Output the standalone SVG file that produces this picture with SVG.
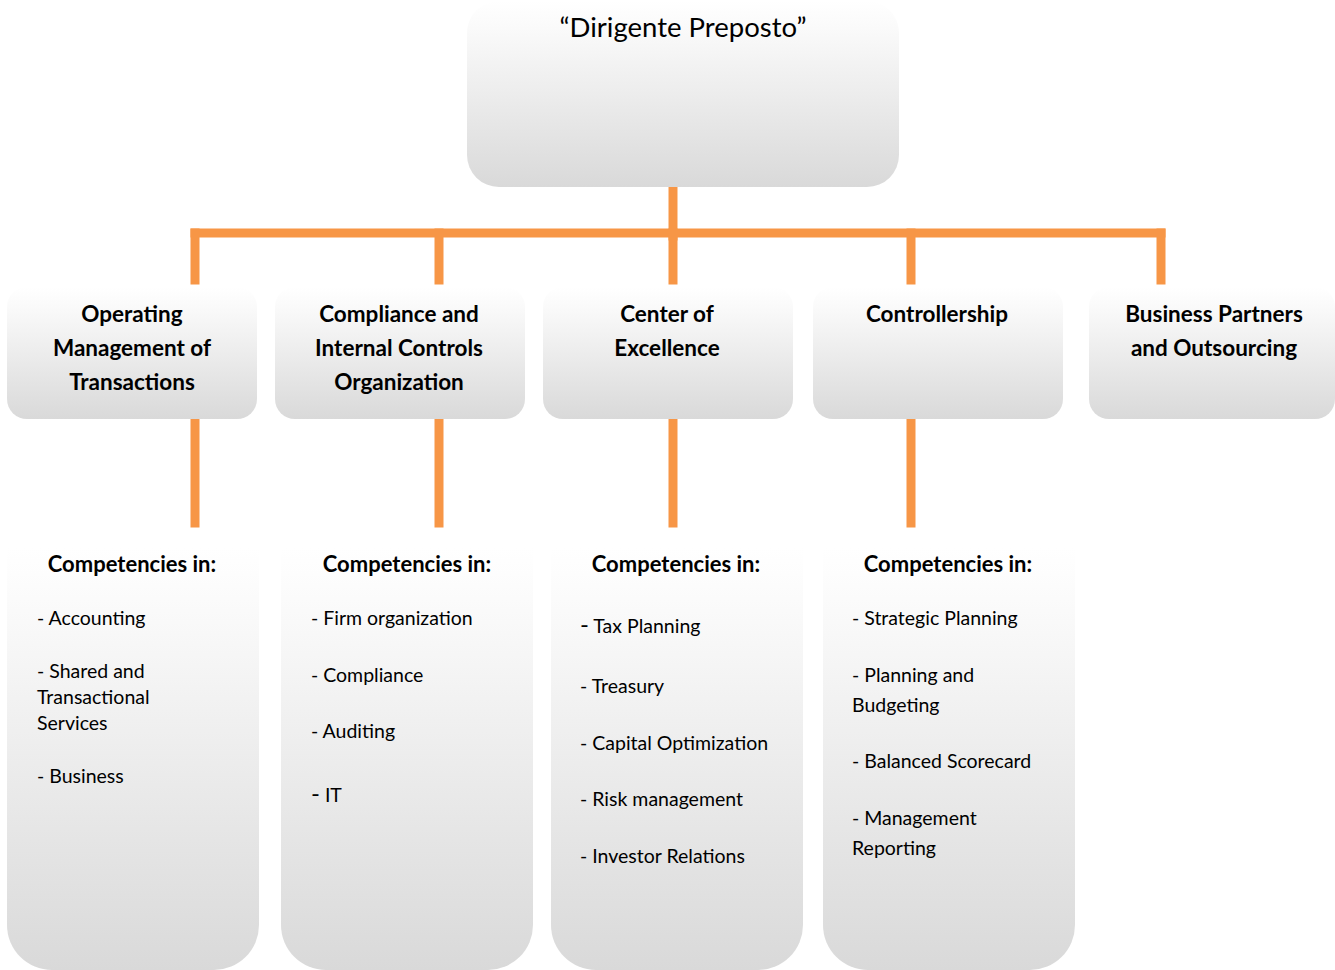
<svg xmlns="http://www.w3.org/2000/svg" width="1335" height="970" viewBox="0 0 1335 970">
<defs>
<linearGradient id="g" x1="0" y1="0" x2="0" y2="1">
<stop offset="0" stop-color="#ffffff"/>
<stop offset="0.15" stop-color="#fafafa"/>
<stop offset="1" stop-color="#d9d9d9"/>
</linearGradient>
</defs>
<style>
.box{fill:url(#g);}
.conn{stroke:#F79646;stroke-width:9;fill:none;stroke-linecap:square;}
text{font-family:Lato,"Open Sans","Liberation Sans",sans-serif;fill:#000;}
.title{font-size:27.5px;text-anchor:middle;}
.hdr{font-size:22.5px;font-weight:bold;text-anchor:middle;}
.comp{font-size:22px;font-weight:bold;text-anchor:middle;}
.item{font-size:19.5px;}
</style>
<rect width="1335" height="970" fill="#ffffff"/>
<g id="connectors">
<path class="conn" d="M673 190 V236"/>
<path class="conn" d="M195 233 H1161"/>
<path class="conn" d="M195 233 V280 M439 233 V280 M673 233 V280 M911 233 V280 M1161 233 V280"/>
<path class="conn" d="M195 423 V523 M439 423 V523 M673 423 V523 M911 423 V523"/>
</g>
<g id="top">
<rect class="box" x="467" y="1" width="432" height="186" rx="32"/>
<text class="title" x="683" y="37">“Dirigente Preposto”</text>
</g>
<g id="h1">
<rect class="box" x="7" y="287" width="250" height="132" rx="20"/>
<text class="hdr" x="132" y="322">Operating</text>
<text class="hdr" x="132" y="356">Management of</text>
<text class="hdr" x="132" y="390">Transactions</text>
</g>
<g id="h2">
<rect class="box" x="275" y="287" width="250" height="132" rx="20"/>
<text class="hdr" x="399" y="322">Compliance and</text>
<text class="hdr" x="399" y="356">Internal Controls</text>
<text class="hdr" x="399" y="390">Organization</text>
</g>
<g id="h3">
<rect class="box" x="543" y="287" width="250" height="132" rx="20"/>
<text class="hdr" x="667" y="322">Center of</text>
<text class="hdr" x="667" y="356">Excellence</text>
</g>
<g id="h4">
<rect class="box" x="813" y="287" width="250" height="132" rx="20"/>
<text class="hdr" x="937" y="322">Controllership</text>
</g>
<g id="h5">
<rect class="box" x="1089" y="287" width="246" height="132" rx="20"/>
<text class="hdr" x="1214" y="322">Business Partners</text>
<text class="hdr" x="1214" y="356">and Outsourcing</text>
</g>
<g id="c1">
<path class="box" d="M7 548 H259 V925 A45 45 0 0 1 214 970 H52 A45 45 0 0 1 7 925 Z"/>
<text class="comp" x="132" y="572">Competencies in:</text>
<text class="item" x="37" y="625">- Accounting</text>
<text class="item" x="37" y="678">- Shared and</text>
<text class="item" x="37" y="704">Transactional</text>
<text class="item" x="37" y="730">Services</text>
<text class="item" x="37" y="783">- Business</text>
</g>
<g id="c2">
<path class="box" d="M281 548 H533 V925 A45 45 0 0 1 488 970 H326 A45 45 0 0 1 281 925 Z"/>
<text class="comp" x="407" y="572">Competencies in:</text>
<text class="item" x="311" y="625">- Firm organization</text>
<text class="item" x="311" y="682">- Compliance</text>
<text class="item" x="311" y="738">- Auditing</text>
<text class="item" x="311" y="802"><tspan font-size="24">-</tspan> IT</text>
</g>
<g id="c3">
<path class="box" d="M551 548 H803 V925 A45 45 0 0 1 758 970 H596 A45 45 0 0 1 551 925 Z"/>
<text class="comp" x="676" y="572">Competencies in:</text>
<text class="item" x="580" y="633"><tspan font-size="24">-</tspan> Tax Planning</text>
<text class="item" x="580" y="693">- Treasury</text>
<text class="item" x="580" y="750">- Capital Optimization</text>
<text class="item" x="580" y="806">- Risk management</text>
<text class="item" x="580" y="863">- Investor Relations</text>
</g>
<g id="c4">
<path class="box" d="M823 548 H1075 V925 A45 45 0 0 1 1030 970 H868 A45 45 0 0 1 823 925 Z"/>
<text class="comp" x="948" y="572">Competencies in:</text>
<text class="item" x="852" y="625">- Strategic Planning</text>
<text class="item" x="852" y="682">- Planning and</text>
<text class="item" x="852" y="712">Budgeting</text>
<text class="item" x="852" y="768">- Balanced Scorecard</text>
<text class="item" x="852" y="825">- Management</text>
<text class="item" x="852" y="855">Reporting</text>
</g>
</svg>
